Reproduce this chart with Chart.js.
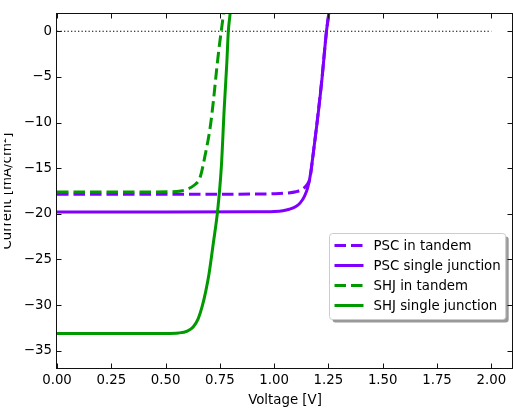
<!DOCTYPE html>
<html><head><meta charset="utf-8">
<script src="https://cdn.jsdelivr.net/npm/chart.js@4/dist/chart.umd.min.js"></script>
<style>html,body{margin:0;padding:0;background:#fff;overflow:hidden}canvas{display:block}</style>
</head><body><canvas id="c" width="513" height="410"></canvas>
<script>
// ---- data ----
const xTickValues = [0, 0.25, 0.5, 0.75, 1.0, 1.25, 1.5, 1.75, 2.0];
const yTickValues = [-35, -30, -25, -20, -15, -10, -5, 0];
const seriesLabels = ['PSC in tandem', 'PSC single junction', 'SHJ in tandem', 'SHJ single junction'];

const pscTandemV = [0, 0.5, 0.9, 1.0, 1.06, 1.10, 1.13, 1.15, 1.165, 1.18, 1.20, 1.22, 1.241, 1.252, 1.27];
const pscTandemJ = [-17.85, -17.85, -17.84, -17.8, -17.72, -17.58, -17.3, -16.85, -16.1, -13.4, -9.5, -5.2, 0, 2, 6];

const pscSingleV = [0, 0.5, 0.9, 1.0, 1.04, 1.07, 1.10, 1.12, 1.14, 1.155, 1.165, 1.18, 1.20, 1.22, 1.241, 1.252, 1.27];
const pscSingleJ = [-19.8, -19.8, -19.78, -19.74, -19.66, -19.5, -19.2, -18.8, -18.05, -17.1, -16.0, -13.4, -9.6, -5.3, 0, 2, 6];

const shjTandemV = [0, 0.4, 0.53, 0.57, 0.60, 0.63, 0.659, 0.682, 0.705, 0.72, 0.736, 0.748, 0.758, 0.766, 0.78];
const shjTandemJ = [-17.6, -17.6, -17.58, -17.5, -17.3, -16.9, -16.0, -13.6, -10.6, -7.7, -4.0, -1.5, 0.3, 1.8, 5];

const shjSingleV = [0, 0.5, 0.56, 0.6, 0.627, 0.65, 0.668, 0.685, 0.70, 0.72, 0.74, 0.757, 0.770, 0.782, 0.789, 0.797, 0.81];
const shjSingleJ = [-33.1, -33.1, -33.05, -32.85, -32.4, -31.5, -30.2, -28.5, -26.6, -23.2, -19.6, -14.8, -8.5, -3.5, 0, 1.9, 6];

const zeroLineV = [0, 2.0];
const zeroLineJ = [0, 0];

const toXY = (xs, ys) => xs.map((x, i) => ({x, y: ys[i]}));

const PURPLE = '#8000ff', GREEN = '#009a00';
const FONT = {family: "'DejaVu Sans', sans-serif", size: 13.33};

const frameAndLegend = {
  id: 'frameAndLegend',
  afterDatasetsDraw(chart) {
    const ctx = chart.ctx, a = chart.chartArea;
    const xs = chart.scales.x, ys = chart.scales.y;
    ctx.save();
    // frame
    const x0 = Math.round(a.left) - 0.5, x1 = Math.round(a.right) - 0.5;
    const y0 = Math.round(a.top) + 0.5, y1 = Math.round(a.bottom) - 0.5;
    ctx.strokeStyle = '#111'; ctx.lineWidth = 1;
    ctx.strokeRect(x0, y0, x1 - x0, y1 - y0);
    // inward ticks
    ctx.beginPath();
    xTickValues.forEach(v => {
      const p = Math.round(xs.getPixelForValue(v)) + 0.5;
      ctx.moveTo(p, y1); ctx.lineTo(p, y1 - 5);
      ctx.moveTo(p, y0); ctx.lineTo(p, y0 + 5);
    });
    yTickValues.forEach(v => {
      const p = Math.round(ys.getPixelForValue(v)) + 0.5;
      ctx.moveTo(x0, p); ctx.lineTo(x0 + 5, p);
      ctx.moveTo(x1, p); ctx.lineTo(x1 - 5, p);
    });
    ctx.stroke();
    // y title (left part cut off by the figure edge, as in the reference)
    ctx.beginPath(); ctx.rect(4, 0, 40, chart.height); ctx.clip();
    ctx.fillStyle = '#000';
    ctx.font = FONT.size + 'px ' + FONT.family;
    ctx.translate(11, (a.top + a.bottom) / 2);
    ctx.rotate(-Math.PI / 2);
    ctx.textAlign = 'center'; ctx.textBaseline = 'alphabetic';
    ctx.fillText('Current [mA/cm²]', 0, 0);
    ctx.restore();

    // legend
    ctx.save();
    ctx.font = FONT.size + 'px ' + FONT.family;
    const items = chart.data.datasets.filter(d => d.label);
    const tw = Math.max(...items.map(d => ctx.measureText(d.label).width));
    const padL = 5, hl = 29, gap = 10, padR = 5, rowH = 20;
    const w = padL + hl + gap + tw + padR, h = 86;
    const bx = Math.round(a.right - 8 - w) + 0.5, by = Math.round(a.bottom - 50 - h) + 0.5;
    const rr = (x, y, ww, hh, r) => { ctx.beginPath(); ctx.roundRect(x, y, ww, hh, r); };
    ctx.fillStyle = 'rgba(0,0,0,0.4)';
    rr(bx + 3, by + 3, w, h, 3); ctx.fill();
    ctx.fillStyle = '#fff'; ctx.strokeStyle = '#cccccc'; ctx.lineWidth = 1;
    rr(bx, by, w, h, 3); ctx.fill(); ctx.stroke();
    items.forEach((d, i) => {
      const cy = by + 12 + i * rowH;
      ctx.strokeStyle = d.borderColor; ctx.lineWidth = d.borderWidth;
      ctx.setLineDash(d.borderDash || []);
      ctx.beginPath(); ctx.moveTo(bx + padL, cy); ctx.lineTo(bx + padL + hl, cy); ctx.stroke();
      ctx.setLineDash([]);
      ctx.fillStyle = '#000'; ctx.textBaseline = 'middle'; ctx.textAlign = 'left';
      ctx.fillText(d.label, bx + padL + hl + gap, cy + 1);
    });
    ctx.restore();
  }
};

const common = {showLine: true, pointRadius: 0, fill: false, borderWidth: 3, cubicInterpolationMode: 'monotone'};

new Chart(document.getElementById('c'), {
  type: 'scatter',
  data: {
    datasets: [
      {...common, label: seriesLabels[0], data: toXY(pscTandemV, pscTandemJ), borderColor: PURPLE, borderDash: [11.5, 5], order: 4},
      {...common, label: seriesLabels[1], data: toXY(pscSingleV, pscSingleJ), borderColor: PURPLE, order: 3},
      {...common, label: seriesLabels[2], data: toXY(shjTandemV, shjTandemJ), borderColor: GREEN, borderDash: [11.5, 5], order: 2},
      {...common, label: seriesLabels[3], data: toXY(shjSingleV, shjSingleJ), borderColor: GREEN, order: 1},
      {showLine: true, pointRadius: 0, label: '', data: toXY(zeroLineV, zeroLineJ), borderColor: '#000', borderWidth: 1.2, borderDash: [1.3, 2.2], order: 5}
    ]
  },
  options: {
    responsive: false, animation: false, devicePixelRatio: 1,
    layout: {padding: {top: 12, left: 0, right: 0, bottom: 0}},
    plugins: {legend: {display: false}, tooltip: {enabled: false}},
    scales: {
      x: {
        type: 'linear', min: 0, max: 2.1,
        grid: {display: false, drawTicks: false}, border: {display: false},
        afterBuildTicks: s => { s.ticks = xTickValues.map(v => ({value: v})); },
        afterFit: s => { s.height = 41; },
        ticks: {padding: 4, color: '#000', font: FONT, maxRotation: 0, autoSkip: false, callback: v => Number(v).toFixed(2)},
        title: {display: true, text: 'Voltage [V]', color: '#000', font: FONT, padding: {top: 0, bottom: 1}}
      },
      y: {
        type: 'linear', min: -37, max: 2,
        grid: {display: false, drawTicks: false}, border: {display: false},
        afterBuildTicks: s => { s.ticks = yTickValues.map(v => ({value: v})); },
        afterFit: s => { s.width = 57; },
        ticks: {padding: 5, color: '#000', font: FONT, autoSkip: false, callback: v => String(v).replace('-', '\u2212')}
      }
    }
  },
  plugins: [frameAndLegend]
});
</script>
</body></html>
